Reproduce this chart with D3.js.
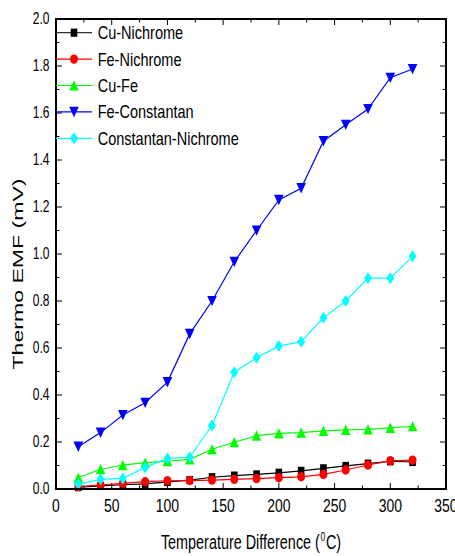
<!DOCTYPE html>
<html>
<head>
<meta charset="utf-8">
<script src="https://cdn.jsdelivr.net/npm/d3@7"></script>
<style>
  html, body { margin: 0; padding: 0; background: #fff; }
  svg { display: block; }
</style>
</head>
<body>
<svg id="chart" width="455" height="556"></svg>
<script>
// Temperature difference (°C) at each measurement
const temps = [20, 40, 60, 80, 100, 120, 140, 160, 180, 200, 220, 240, 260, 280, 300, 320];

// Thermo EMF (mV) for each thermocouple pair
const cuNichrome    = [0.008, 0.013, 0.018, 0.022, 0.030, 0.038, 0.050, 0.057, 0.062, 0.069, 0.077, 0.088, 0.098, 0.108, 0.118, 0.115];
const feNichrome    = [0.010, 0.017, 0.024, 0.031, 0.035, 0.036, 0.038, 0.041, 0.044, 0.048, 0.052, 0.062, 0.081, 0.102, 0.120, 0.123];
const cuFe          = [0.048, 0.084, 0.102, 0.112, 0.118, 0.126, 0.169, 0.199, 0.227, 0.237, 0.240, 0.247, 0.252, 0.254, 0.260, 0.267];
const feConstantan  = [0.180, 0.240, 0.315, 0.367, 0.455, 0.660, 0.800, 0.967, 1.100, 1.230, 1.280, 1.480, 1.550, 1.617, 1.750, 1.787];
const constNichrome = [0.020, 0.041, 0.045, 0.092, 0.130, 0.135, 0.270, 0.497, 0.559, 0.608, 0.627, 0.729, 0.800, 0.897, 0.897, 0.990];

const seriesNames = ["Cu-Nichrome", "Fe-Nichrome", "Cu-Fe", "Fe-Constantan", "Constantan-Nichrome"];
const seriesValues = [cuNichrome, feNichrome, cuFe, feConstantan, constNichrome];
const seriesColors = ["#000000", "#ff0000", "#00ff00", "#0000ff", "#00ffff"];
const seriesShapes = ["square", "circle", "triangleUp", "triangleDown", "diamond"];

const xTickValues = [0, 50, 100, 150, 200, 250, 300, 350];
const yTickValues = [0.0, 0.2, 0.4, 0.6, 0.8, 1.0, 1.2, 1.4, 1.6, 1.8, 2.0];

const xTitleParts = ["Temperature Difference (", "0", "C)"];
const yTitle = "Thermo EMF (mV)";

// ---- layout ----
const plot = { left: 56, right: 446, top: 19, bottom: 489 };
const FONT = "'Liberation Sans', Arial, Helvetica, sans-serif";

const svg = d3.select("#chart");

const x = d3.scaleLinear().domain([0, 350]).range([plot.left, plot.right]);
const y = d3.scaleLinear().domain([0, 2]).range([plot.bottom, plot.top]);

// Squeeze text horizontally by factor k, anchored at ax ('start' | 'middle' | 'end')
function squeeze(sel, k, anchor, ax) {
  sel.each(function () {
    const t = d3.select(this);
    t.attr("text-anchor", "start");
    const w = this.getComputedTextLength();
    const target = w * k;
    t.attr("textLength", target).attr("lengthAdjust", "spacingAndGlyphs");
    let x0 = ax;
    if (anchor === "middle") x0 = ax - target / 2;
    else if (anchor === "end") x0 = ax - target;
    t.attr("x", x0);
  });
}

// Marker shapes centred on (0,0)
function markerPath(shape) {
  switch (shape) {
    case "square": return "M-3.3,-4.1H3.3V4.1H-3.3Z";
    case "circle": {
      const rx = 4, ry = 4.7;
      return `M${-rx},0A${rx},${ry} 0 1 0 ${rx},0A${rx},${ry} 0 1 0 ${-rx},0Z`;
    }
    case "triangleUp": return "M0,-5.3L4.8,5.1L-4.8,5.1Z";
    case "triangleDown": return "M0,5.3L4.8,-5.1L-4.8,-5.1Z";
    case "diamond": return "M0,-6L4,0L0,6L-4,0Z";
  }
}

// ---- ticks (inward on all four sides) ----
const axesG = svg.append("g").attr("stroke", "#000").attr("stroke-width", 1);
const xMinor = d3.range(0, 351, 25);
const yMinor = d3.range(0, 21).map(d => d / 10);

xMinor.forEach(v => {
  const major = v % 50 === 0;
  const len = major ? 6 : 3.5;
  axesG.append("line").attr("x1", x(v)).attr("x2", x(v))
    .attr("y1", plot.bottom).attr("y2", plot.bottom - len);
  axesG.append("line").attr("x1", x(v)).attr("x2", x(v))
    .attr("y1", plot.top).attr("y2", plot.top + len);
});
yMinor.forEach((v, i) => {
  const major = i % 2 === 0;
  const len = major ? 6 : 3.5;
  axesG.append("line").attr("y1", y(v)).attr("y2", y(v))
    .attr("x1", plot.left).attr("x2", plot.left + len);
  axesG.append("line").attr("y1", y(v)).attr("y2", y(v))
    .attr("x1", plot.right).attr("x2", plot.right - len);
});

// ---- series lines and markers ----
const line = d3.line().x(d => x(d[0])).y(d => y(d[1]));
seriesValues.forEach((vals, si) => {
  const pts = temps.map((t, i) => [t, vals[i]]);
  const g = svg.append("g");
  g.append("path").datum(pts)
    .attr("d", line)
    .attr("fill", "none")
    .attr("stroke", seriesColors[si])
    .attr("stroke-width", 1.2);
  g.selectAll("path.m").data(pts).join("path")
    .attr("class", "m")
    .attr("d", markerPath(seriesShapes[si]))
    .attr("transform", d => `translate(${x(d[0])},${y(d[1])})`)
    .attr("fill", seriesColors[si]);
});

// ---- frame ----
svg.append("rect")
  .attr("x", plot.left).attr("y", plot.top)
  .attr("width", plot.right - plot.left).attr("height", plot.bottom - plot.top)
  .attr("fill", "none").attr("stroke", "#000").attr("stroke-width", 2);

// ---- tick labels ----
svg.append("g").selectAll("text").data(yTickValues).join("text")
  .attr("y", d => y(d) + 5.3)
  .attr("font-family", FONT).attr("font-size", 15.8).attr("fill", "#000")
  .text(d => d3.format(".1f")(d))
  .call(squeeze, 0.76, "end", 49.5);

svg.append("g").selectAll("text").data(xTickValues).join("text")
  .attr("y", 511.7)
  .attr("font-family", FONT).attr("font-size", 18.6).attr("fill", "#000")
  .text(d => d)
  .each(function (d) { d3.select(this).call(squeeze, 0.75, "middle", x(d)); });

// ---- axis titles ----
// x title: main text, raised small "0", then "C)" laid out side by side and centred
const xtG = svg.append("g");
const xtSizes = [20, 12, 20];
const xtDy = [0, -8, 0];
const xtPieces = xTitleParts.map((s, i) => xtG.append("text")
  .attr("y", 549.3 + xtDy[i])
  .attr("font-family", FONT).attr("font-size", xtSizes[i]).attr("fill", "#000")
  .text(s));
const xtK = 0.72;
const xtWidths = xtPieces.map(p => p.node().getComputedTextLength() * xtK);
const xtGap = 0.6;
const xtTotal = d3.sum(xtWidths) + xtGap * 2;
let xtCursor = (plot.left + plot.right) / 2 - xtTotal / 2;
xtPieces.forEach((p, i) => {
  p.call(squeeze, xtK, "start", xtCursor);
  xtCursor += xtWidths[i] + xtGap;
});

svg.append("g").attr("transform", "translate(22.7,274) rotate(-90)")
  .append("text")
  .attr("y", 0)
  .attr("font-family", FONT).attr("font-size", 15.4).attr("fill", "#000")
  .text(yTitle)
  .call(squeeze, 1.5, "middle", 0);

// ---- legend ----
const legend = svg.append("g");
seriesNames.forEach((name, i) => {
  const cy = 32.7 + i * 26.4;
  legend.append("line")
    .attr("x1", 56).attr("x2", 92).attr("y1", cy).attr("y2", cy)
    .attr("stroke", i === 0 ? "#333" : seriesColors[i]).attr("stroke-width", 1.2);
  legend.append("path")
    .attr("d", markerPath(seriesShapes[i]))
    .attr("transform", `translate(74,${cy})`)
    .attr("fill", seriesColors[i]);
  legend.append("text")
    .attr("y", cy + 6.4)
    .attr("font-family", FONT).attr("font-size", 17.7).attr("fill", "#000")
    .text(name)
    .call(squeeze, 0.82, "start", 97.7);
});
</script>
</body>
</html>
